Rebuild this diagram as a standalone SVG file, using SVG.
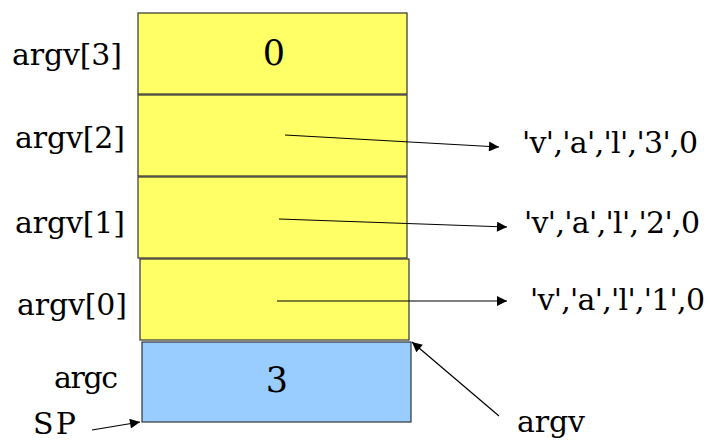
<svg xmlns="http://www.w3.org/2000/svg" width="710" height="441" viewBox="0 0 710 441">
<style>
text{font-family:"DejaVu Serif","Liberation Serif",serif;font-size:30px;fill:#000}
.d{font-size:35px}
.y{fill:#ffff66;stroke:#333;stroke-width:1.2}
.b{fill:#99ccff;stroke:#333;stroke-width:1.2}
.c{stroke:#000;stroke-width:1.2;fill:none;marker-end:url(#ah)}
</style>
<defs>
<marker id="ah" viewBox="0 0 10 10" refX="10" refY="5" markerWidth="17" markerHeight="10" markerUnits="userSpaceOnUse" orient="auto">
<path d="M0,0 L10,5 L0,10 Z" fill="#000"/>
</marker>
</defs>
<rect width="710" height="441" fill="#fff"/>
<g id="argv3"><rect class="y" x="138" y="13" width="269" height="81"/><text class="d" x="274" y="65" text-anchor="middle">0</text><text x="12" y="65" textLength="110">argv[3]</text></g>
<g id="argv2"><rect class="y" x="138" y="95" width="269" height="81"/><text x="15" y="148" textLength="110">argv[2]</text></g>
<g id="argv1"><rect class="y" x="138" y="177" width="269" height="81"/><text x="15" y="233" textLength="110">argv[1]</text></g>
<g id="argv0"><rect class="y" x="140" y="259" width="269" height="81"/><text x="17" y="315" textLength="110">argv[0]</text></g>
<g id="argc"><rect class="b" x="142" y="342" width="269" height="80"/><text class="d" x="277" y="392" text-anchor="middle">3</text><text x="54" y="388" textLength="64">argc</text></g>
<g id="str3"><text x="522" y="153" textLength="176">'v','a','l','3',0</text></g>
<g id="str2"><text x="524" y="233" textLength="176">'v','a','l','2',0</text></g>
<g id="str1"><text x="530" y="310" textLength="175">'v','a','l','1',0</text></g>
<g id="sp"><text x="33" y="434" textLength="43">SP</text></g>
<g id="argvlabel"><text x="517" y="432" textLength="68">argv</text></g>
<g id="connectors">
<line class="c" x1="285" y1="135" x2="499" y2="147"/>
<line class="c" x1="279" y1="219" x2="507" y2="227"/>
<line class="c" x1="277" y1="301" x2="507" y2="301"/>
<line class="c" x1="92" y1="430" x2="140" y2="422"/>
<line class="c" x1="499" y1="416" x2="412" y2="342"/>
</g>
</svg>
